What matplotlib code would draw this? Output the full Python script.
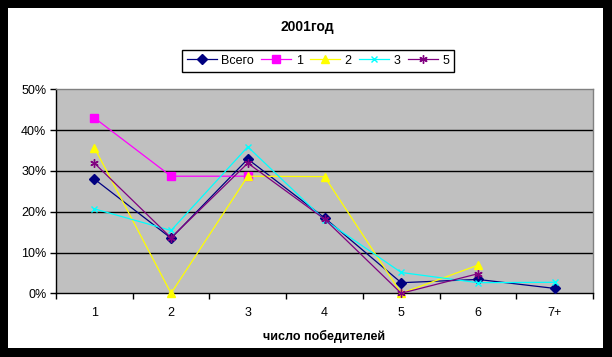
import numpy as np
import matplotlib
matplotlib.use("Agg")
import matplotlib.pyplot as plt
from matplotlib.ticker import PercentFormatter, FixedLocator
from matplotlib.patches import Rectangle

nan = np.nan
categories = ['1', '2', '3', '4', '5', '6', '7+']
vsego = [28.0, 13.5, 32.9, 18.5, 2.6, 3.4, 1.2]
s1 = [43.0, 28.7, 28.7, nan, nan, nan, nan]
s2 = [35.7, 0.0, 28.7, 28.6, 0.0, 6.9, nan]
s3 = [20.7, 15.4, 35.9, 18.0, 5.1, 2.6, 2.7]
s5 = [31.9, 13.6, 31.9, 18.2, 0.0, 4.8, nan]

series = [
    ('Всего', vsego, '#000080', 'D', 5.5),
    ('1', s1, '#FF00FF', 's', 5.5),
    ('2', s2, '#FFFF00', '^', 6),
    ('3', s3, '#00FFFF', 'x', 5),
    ('5', s5, '#800080', (6, 2, 0), 6),
]

plt.rcParams['font.family'] = ['Liberation Sans', 'DejaVu Sans']

W, H = 612, 357
fig = plt.figure(figsize=(W / 100, H / 100), dpi=100)
fig.patch.set_facecolor('black')

bg = fig.add_axes([0, 0, 1, 1], zorder=-10)
bg.set_axis_off()
bg.set_xlim(0, W)
bg.set_ylim(H, 0)
bg.add_patch(Rectangle((8, 8), 603 - 8, 348 - 8, facecolor='white', edgecolor='none'))

ax = fig.add_axes([56 / W, (H - 293.3) / H, (593 - 56) / W, (293.3 - 89.3) / H], zorder=1)
ax.set_facecolor('#C0C0C0')

x = np.arange(1, len(categories) + 1)
for name, vals, col, mk, ms in series:
    ax.plot(x, vals, color=col, marker=mk, markersize=ms, linewidth=0.9,
            markerfacecolor=col, markeredgecolor=col, markeredgewidth=1.0,
            label=name, clip_on=False, zorder=3)

ax.set_xlim(0.5, len(categories) + 0.5)
ax.set_ylim(0, 50)
ax.yaxis.set_major_locator(FixedLocator([0, 10, 20, 30, 40, 50]))
ax.yaxis.set_major_formatter(PercentFormatter(100, decimals=0))
for yv in [10, 20, 30, 40]:
    ax.axhline(yv, color='black', linewidth=1.0, zorder=1)

ax.set_xticks(np.arange(0.5, len(categories) + 1, 1.0))
ax.set_xticklabels([])
ax.set_xticks(x, minor=True)
ax.set_xticklabels(categories, minor=True)
ax.tick_params(axis='x', which='major', direction='out', length=4, width=1, color='black')
ax.tick_params(axis='x', which='minor', length=0, pad=10, labelsize=9)
ax.tick_params(axis='y', direction='out', length=4, width=1, color='black', labelsize=9, pad=3)

for s in ['top', 'right']:
    ax.spines[s].set_color('#808080')
    ax.spines[s].set_linewidth(1.0)
for s in ['left', 'bottom']:
    ax.spines[s].set_color('black')
    ax.spines[s].set_linewidth(1.0)

ax.set_xlabel('число победителей', fontsize=9, fontweight='bold', labelpad=8)

fig.text(307 / W, 1 - 27 / H, '2001год', ha='center', va='center',
         fontsize=10, fontweight='bold')

leg = fig.legend(loc='center', bbox_to_anchor=(318 / W, 1 - 60.5 / H), ncol=5,
                 fontsize=9, frameon=True, fancybox=False, edgecolor='black',
                 facecolor='white', framealpha=1, handlelength=2.4,
                 handletextpad=0.35, columnspacing=0.6, borderpad=0.4,
                 borderaxespad=0)
leg.get_frame().set_linewidth(1.0)

fig.savefig('out.png', dpi=100, facecolor=fig.get_facecolor())
